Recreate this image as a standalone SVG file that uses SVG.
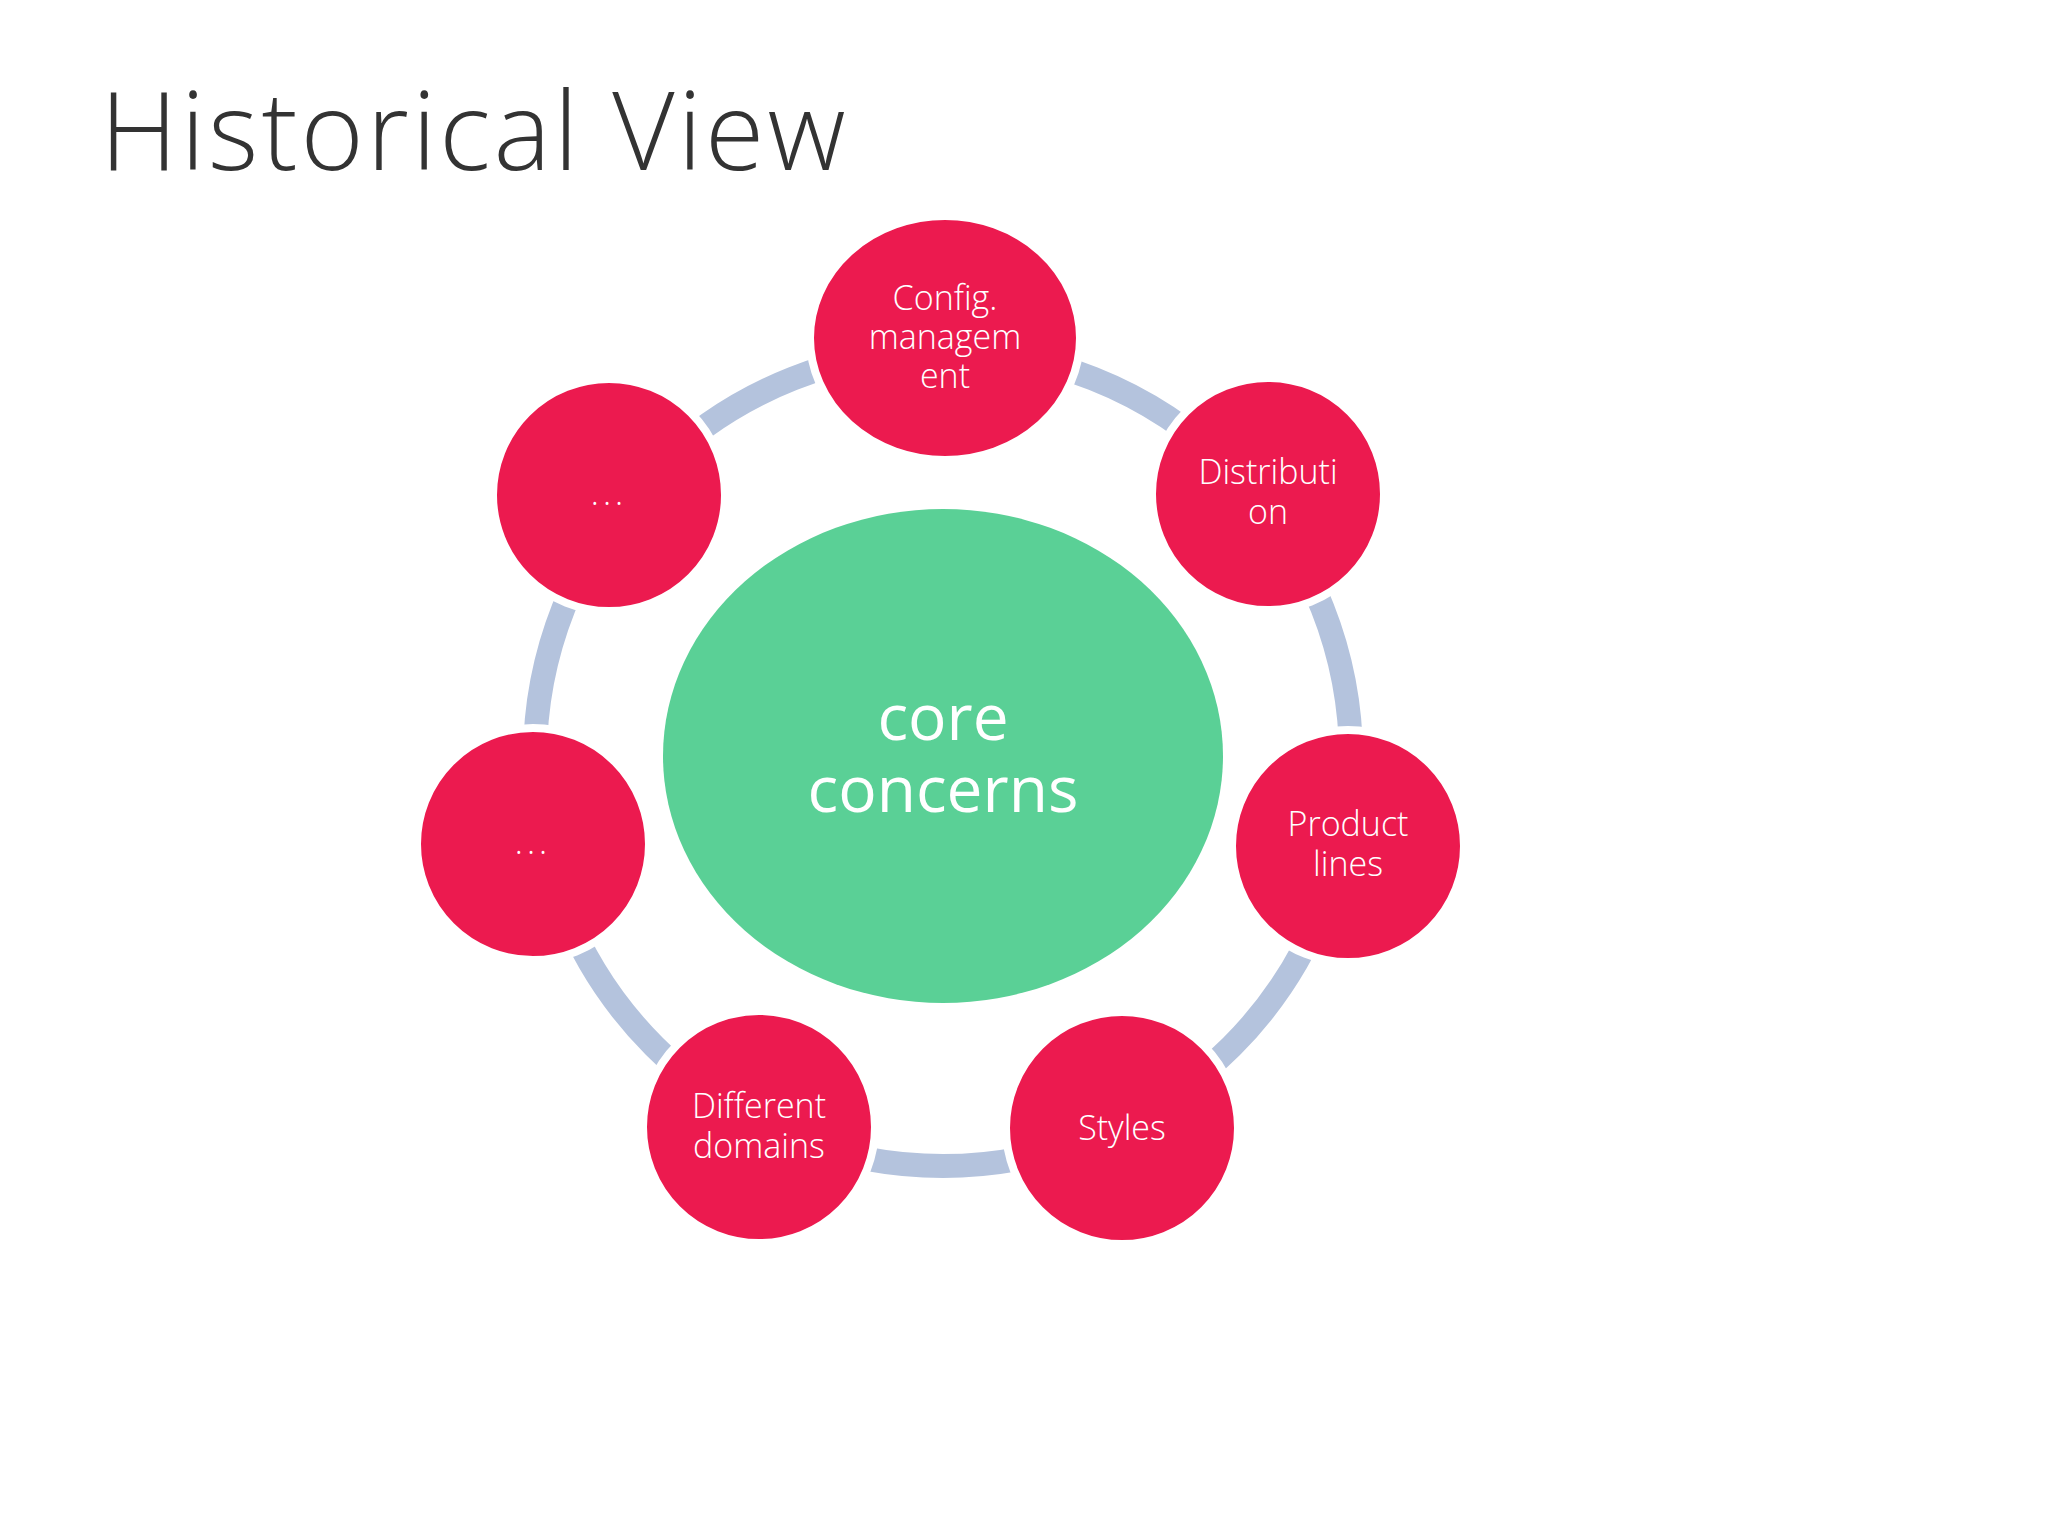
<svg xmlns="http://www.w3.org/2000/svg" width="2048" height="1536" viewBox="0 0 2048 1536">
<style>
.n{fill:#ec1a4f;stroke:#fff;stroke-width:8}
.t{font-family:"Open Sans","Liberation Sans",sans-serif;font-weight:300;font-size:34px;fill:#fff;text-anchor:middle}
.c{font-size:64px;font-weight:400}
</style>
<rect width="2048" height="1536" fill="#fff"/>
<text x="100" y="170" font-family="Open Sans, Liberation Sans, sans-serif" font-weight="300" font-size="108" letter-spacing="3" fill="#333">Historical View</text>
<g id="connectors"><circle cx="943" cy="758" r="408" fill="none" stroke="#b4c3dd" stroke-width="24"/></g>
<g id="core"><ellipse cx="943" cy="756" rx="280" ry="247" fill="#5ad096"/>
<text class="t c" x="943" y="740">core</text>
<text class="t c" x="943" y="812">concerns</text></g>
<g id="config"><ellipse class="n" cx="945" cy="338" rx="135" ry="122"/>
<text class="t" x="945" y="310">Config.</text><text class="t" x="945" y="349">managem</text><text class="t" x="945" y="388">ent</text></g>
<g id="distribution"><circle class="n" cx="1268" cy="494" r="116"/>
<text class="t" x="1268" y="484">Distributi</text><text class="t" x="1268" y="524">on</text></g>
<g id="product"><circle class="n" cx="1348" cy="846" r="116"/>
<text class="t" x="1348" y="836">Product</text><text class="t" x="1348" y="876">lines</text></g>
<g id="styles"><circle class="n" cx="1122" cy="1128" r="116"/>
<text class="t" x="1122" y="1140">Styles</text></g>
<g id="domains"><circle class="n" cx="759" cy="1127" r="116"/>
<text class="t" x="759" y="1118">Different</text><text class="t" x="759" y="1158">domains</text></g>
<g id="dots1"><circle class="n" cx="533" cy="844" r="116"/>
<text class="t" x="533" y="854" letter-spacing="4">...</text></g>
<g id="dots2"><circle class="n" cx="609" cy="495" r="116"/>
<text class="t" x="609" y="505" letter-spacing="4">...</text></g>
</svg>
